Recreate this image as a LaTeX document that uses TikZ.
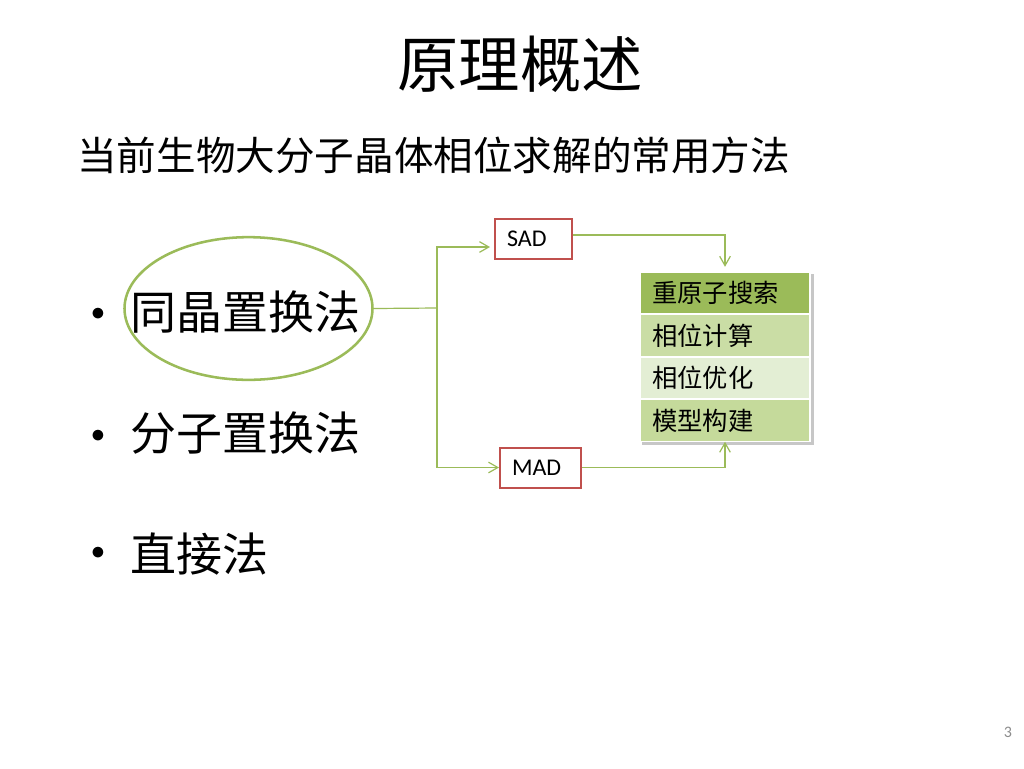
\documentclass[tikz,border=0pt]{standalone}
\usepackage{fontspec}
\setsansfont{Carlito}
\newfontfamily\cjk{Noto Sans CJK SC}
\usetikzlibrary{positioning,arrows.meta,backgrounds,calc,shapes.geometric}
\definecolor{ogreen}{HTML}{9BBB59}
\definecolor{ored}{HTML}{C0504D}
\definecolor{rowa}{HTML}{CADDA5}
\definecolor{rowb}{HTML}{E3EED4}
\definecolor{rowc}{HTML}{C5DA9B}

\begin{document}
\begin{tikzpicture}[x=0.75pt,y=-0.75pt,
  item/.style={inner sep=0pt,anchor=west,font=\cjk\fontsize{34.5}{40}\selectfont},
  dot/.style={inner sep=0pt,font=\fontsize{22}{26}\selectfont},
  tag/.style={draw=ored,line width=1.5pt,fill=white,minimum height=30pt,inner xsep=9pt,
    align=left,font=\sffamily\fontsize{18}{20}\selectfont},
  row/.style={draw=white,line width=0.8pt,minimum width=127.5pt,minimum height=31.125pt,
    inner xsep=9pt,text width=109.5pt,align=left,font=\cjk\fontsize{19}{22}\selectfont},
  link/.style={ogreen,line width=0.9pt},
  tip/.style={-{Straight Barb[length=7pt,width=8pt]}}
]
  \begin{scope}[on background layer]
    \fill[white] (0,0) rectangle (1024,768);
  \end{scope}
  \useasboundingbox (0,0) rectangle (1024,768);

  \node[inner sep=0pt,font=\cjk\fontsize{46}{52}\selectfont] (title) at (520,64) {原理概述};
  \node[inner sep=0pt,anchor=west,font=\cjk\fontsize{29.7}{36}\selectfont] (sub) at (77,155)
    {当前生物大分子晶体相位求解的常用方法};

  \node[dot] (d1) at (98,314) {$\bullet$};
  \node[dot] (d2) at (98,436) {$\bullet$};
  \node[dot] (d3) at (98,553) {$\bullet$};
  \node[item] (m1) at (130,312) {同晶置换法};
  \node[item] (m2) at (130,433) {分子置换法};
  \node[item] (m3) at (130,554) {直接法};
  \node[ellipse,draw=ogreen,line width=1.9pt,minimum width=186pt,minimum height=107pt] (e)
    at (248.5,308.5) {};
  \coordinate (j) at (437,308);

  \node[tag,text width=39.75pt] (sad) at (533.5,239) {SAD};
  \node[tag,text width=42.75pt] (mad) at (540.5,467.5) {MAD};

  \node[row,fill=ogreen] (t1) at (725,292.75) {重原子搜索};
  \node[row,fill=rowa,below=0pt of t1] (t2) {相位计算};
  \node[row,fill=rowb,below=0pt of t2] (t3) {相位优化};
  \node[row,fill=rowc,below=0pt of t3] (t4) {模型构建};
  \begin{scope}[on background layer]
    \fill[black,opacity=0.22] ($(t1.north west)+(3,3)$) rectangle ($(t4.south east)+(3,3)$);
  \end{scope}

  \draw[link] (e.east) -- (j);
  \draw[link,tip,shorten >=3pt] (j) |- ([yshift=-6pt]sad.west);
  \draw[link,tip] (j) |- (mad.west);
  \draw[link,tip,shorten >=3.5pt] ([yshift=3pt]sad.east) -| (t1.north);
  \draw[link,tip] (mad.east) -| (t4.south);

  \node[inner sep=0pt,text=black!45,font=\sffamily\fontsize{12}{14}\selectfont] (pg) at (1008,732) {3};
\end{tikzpicture}
\end{document}
